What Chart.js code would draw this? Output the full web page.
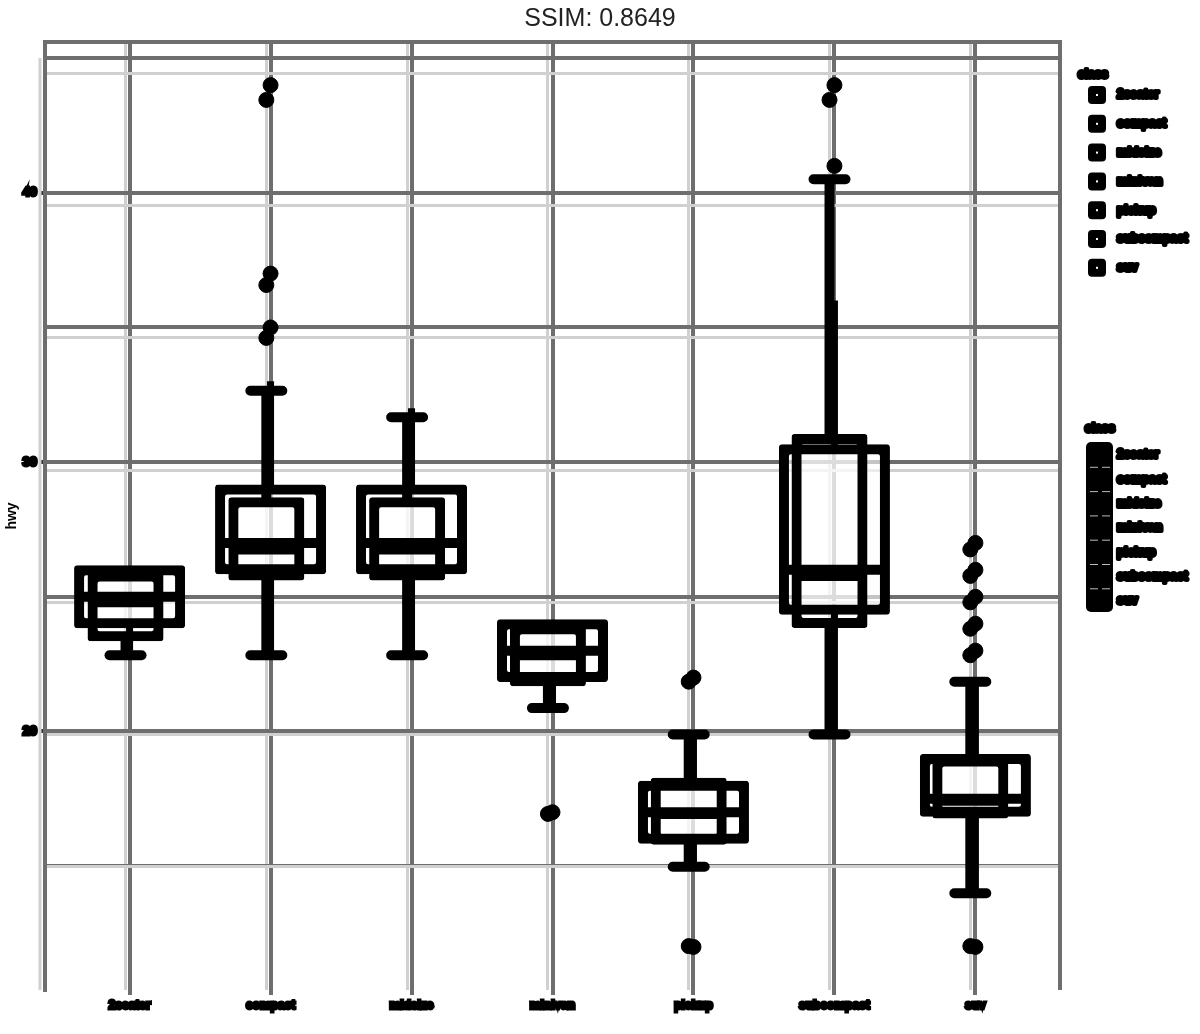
<!DOCTYPE html>
<html>
<head>
<meta charset="utf-8">
<script src="https://cdn.jsdelivr.net/npm/chart.js@4.4.0/dist/chart.umd.min.js"></script>
<style>
  html, body { margin: 0; padding: 0; background: #fff; }
</style>
</head>
<body>
<canvas id="chart" width="1200" height="1034"></canvas>
<script>
const classes = ['2seater', 'compact', 'midsize', 'minivan', 'pickup', 'subcompact', 'suv'];

// first layer (wide boxes)
const lowA  = [23, 23, 23, 21, 15, 20, 14];
const q1A   = [24, 26, 26, 22, 16, 24.5, 17];
const medA  = [25, 27, 27, 23, 17, 26, 17.5];
const q3A   = [26, 29, 29, 24, 18, 30.5, 19];
const highA = [26, 33, 32, 24, 20, 36, 22];
const outA  = [[], [35, 37, 44], [], [17], [22, 12], [41, 44], [23, 24, 25, 26, 27, 12]];

// second layer (narrow boxes with capped whiskers)
const lowB  = [23, 23, 23, 21, 15, 20, 14];
const q1B   = [23.7, 26, 26, 22, 16, 24.2, 17];
const medB  = [25, 27, 27, 23, 17, 26, 17.5];
const q3B   = [26, 28.8, 28.8, 24, 18.2, 31.2, 19];
const highB = [26, 33, 32, 24, 20, 41, 22];
const outB  = [[], [35, 37, 44], [], [17], [22, 12], [44], [23, 24, 25, 26, 27, 12]];

const yTicks = [15, 20, 25, 30, 35, 40, 45];
const yLabels = [20, 30, 40];

const GRID = '#6e6e6e';
const GRID_B = '#d0d0d0';
const labelFont = { family: 'Liberation Sans', size: 12, weight: 'bold' };

function blobText(ctx, text, x, y, size) {
    ctx.font = 'bold ' + size + 'px "Liberation Sans"';
    ctx.textAlign = 'left';
    ctx.textBaseline = 'middle';
    ctx.lineJoin = 'round';
    ctx.lineWidth = 4;
    ctx.strokeStyle = '#000';
    ctx.fillStyle = '#000';
    ctx.strokeText(text, x, y);
    ctx.fillText(text, x, y);
}

function drawParts(ctx, xs, ys, low, q1, med, q3, high, halfBox, whiskerW, cap) {
    ctx.strokeStyle = '#000';
    classes.forEach((c, i) => {
        const x = xs.getPixelForValue(i);
        ctx.lineCap = 'butt';
        ctx.lineWidth = whiskerW;
        ctx.beginPath();
        if (high[i] > q3[i]) {
            ctx.moveTo(x, ys.getPixelForValue(q3[i]));
            ctx.lineTo(x, ys.getPixelForValue(high[i]));
        }
        if (low[i] < q1[i]) {
            ctx.moveTo(x, ys.getPixelForValue(q1[i]));
            ctx.lineTo(x, ys.getPixelForValue(low[i]));
        }
        ctx.stroke();
        if (cap) {
            ctx.lineCap = 'round';
            ctx.lineWidth = 10;
            ctx.beginPath();
            [[high[i], q3[i]], [low[i], q1[i]]].forEach(([v, q]) => {
                if (v === q) return;
                const y = ys.getPixelForValue(v);
                ctx.moveTo(x - cap, y);
                ctx.lineTo(x + cap, y);
            });
            ctx.stroke();
        }
        ctx.lineCap = 'butt';
        ctx.lineWidth = 10;
        const ym = ys.getPixelForValue(med[i]);
        ctx.beginPath();
        ctx.moveTo(x - halfBox, ym);
        ctx.lineTo(x + halfBox, ym);
        ctx.stroke();
    });
}

const boxParts = {
    id: 'boxParts',
    afterDatasetsDraw(chart) {
        const ctx = chart.ctx;
        const s = chart.scales;
        ctx.save();
        drawParts(ctx, s.x2, s.y2, lowB, q1B, medB, q3B, highB, 33, 10, 16);
        drawParts(ctx, s.x, s.y, lowA, q1A, medA, q3A, highA, 51, 7, 0);
        ctx.restore();
    }
};

const frame = {
    id: 'frame',
    beforeDatasetsDraw(chart) {
        const { ctx, chartArea: a } = chart;
        ctx.save();
        ctx.lineWidth = 3;
        ctx.strokeStyle = GRID_B;
        ctx.beginPath();
        ctx.moveTo(a.left - 5, a.top + 16);
        ctx.lineTo(a.left - 5, a.bottom);
        ctx.stroke();
        ctx.lineWidth = 4;
        ctx.strokeStyle = GRID;
        ctx.beginPath();
        ctx.moveTo(a.left - 2, a.top);
        ctx.lineTo(a.right, a.top);
        ctx.lineTo(a.right, a.bottom);
        ctx.stroke();
        ctx.restore();
    }
};

const legends = {
    id: 'legends',
    afterDraw(chart) {
        const ctx = chart.ctx;
        const x0 = chart.chartArea.right;
        ctx.save();
        // legend 1: outline keys
        blobText(ctx, 'class', x0 + 18, 75, 12);
        classes.forEach((c, i) => {
            const y = 95 + i * 28.8;
            ctx.fillStyle = '#000';
            ctx.beginPath();
            ctx.roundRect(x0 + 28, y - 9, 18, 18, 4);
            ctx.fill();
            ctx.fillStyle = '#fff';
            ctx.fillRect(x0 + 36, y - 1, 2, 2);
            blobText(ctx, c, x0 + 57, y, 12);
        });
        // legend 2: filled keys
        blobText(ctx, 'class', x0 + 25, 429, 12);
        ctx.fillStyle = '#000';
        ctx.beginPath();
        ctx.roundRect(x0 + 26, 442, 27, 170, 5);
        ctx.fill();
        classes.forEach((c, i) => {
            const y = 455 + i * 24.3;
            if (i > 0) {
                ctx.strokeStyle = '#bbb';
                ctx.lineWidth = 1;
                ctx.beginPath();
                ctx.moveTo(x0 + 30, y - 12); ctx.lineTo(x0 + 38, y - 12);
                ctx.moveTo(x0 + 42, y - 12); ctx.lineTo(x0 + 50, y - 12);
                ctx.stroke();
            }
            blobText(ctx, c, x0 + 57, y, 12);
        });
        ctx.restore();
    }
};

const boxData = (q1, q3) => classes.map((c, i) => ({ x: i, y: [q1[i], q3[i]] }));
const pointData = out => out.flatMap((vals, i) => vals.map(v => ({ x: i, y: v })));

const outline = { borderWidth: 1, inflateAmount: 4.5, borderRadius: 3, borderSkipped: false,
                  borderColor: '#000', backgroundColor: 'rgba(0,0,0,0)', grouped: false };
const fill = { borderWidth: 0, inflateAmount: 0, grouped: false };

new Chart(document.getElementById('chart'), {
    type: 'bar',
    data: {
        datasets: [
            Object.assign({ type: 'bar', label: 'box', data: boxData(q1A, q3A),
                xAxisID: 'x', yAxisID: 'y', barThickness: 102 }, outline),
            Object.assign({ type: 'bar', label: 'box2', data: boxData(q1B, q3B),
                xAxisID: 'x2', yAxisID: 'y2', barThickness: 67 }, outline),
            Object.assign({ type: 'bar', label: 'fill', data: boxData(q1A, q3A),
                xAxisID: 'x', yAxisID: 'y', barThickness: 102,
                backgroundColor: 'rgba(255,255,255,0.6)' }, fill),
            Object.assign({ type: 'bar', label: 'fill2', data: boxData(q1B, q3B),
                xAxisID: 'x2', yAxisID: 'y2', barThickness: 67,
                backgroundColor: 'rgba(255,255,255,0.4)' }, fill),
            {
                type: 'scatter', label: 'outliers', data: pointData(outA),
                xAxisID: 'x', yAxisID: 'y',
                pointRadius: 7.5, backgroundColor: '#000', borderColor: '#000', borderWidth: 1
            },
            {
                type: 'scatter', label: 'outliers2', data: pointData(outB),
                xAxisID: 'x2', yAxisID: 'y2',
                pointRadius: 7.5, backgroundColor: '#000', borderColor: '#000', borderWidth: 1
            }
        ]
    },
    options: {
        responsive: false,
        animation: false,
        layout: { padding: 0 },
        plugins: {
            legend: { display: false },
            tooltip: { enabled: false },
            title: {
                display: true, text: 'SSIM: 0.8649', color: '#222',
                font: { family: 'Liberation Sans', size: 25, weight: 'normal' },
                padding: { top: 4, bottom: 8 }
            }
        },
        scales: {
            x: {
                type: 'linear', min: -0.6, max: 6.6, offset: false,
                afterBuildTicks: s => { s.ticks = classes.map((c, i) => ({ value: i })); },
                afterFit: s => { s.height = 44; },
                ticks: {
                    callback: v => classes[v], autoSkip: false, maxRotation: 0,
                    color: '#000', font: labelFont, textStrokeColor: '#000', textStrokeWidth: 3, padding: 3
                },
                grid: { color: GRID, lineWidth: 4, tickLength: 5, offset: false },
                border: { display: false }
            },
            x2: {
                type: 'linear', min: -0.572, max: 6.637, offset: false, position: 'bottom', z: -1,
                afterBuildTicks: s => { s.ticks = classes.map((c, i) => ({ value: i })); },
                afterFit: s => { s.height = 0; },
                ticks: { display: false },
                grid: { color: GRID_B, lineWidth: 3, drawTicks: false, offset: false },
                border: { display: false }
            },
            y: {
                type: 'linear', min: 10.4, max: 45.6,
                afterBuildTicks: s => { s.ticks = yTicks.map(v => ({ value: v })); },
                afterFit: s => { s.width = 45; },
                ticks: {
                    callback: v => yLabels.includes(v) ? String(v) : '',
                    color: '#000', font: { family: 'Liberation Sans', size: 13, weight: 'bold' },
                    textStrokeColor: '#000', textStrokeWidth: 3, padding: 3
                },
                grid: {
                    color: GRID, lineWidth: 4, tickLength: 5,
                    tickColor: c => yLabels.includes(c.tick && c.tick.value) ? '#333' : 'rgba(0,0,0,0)'
                },
                border: { display: true, color: GRID, width: 4 },
                title: {
                    display: true, text: 'hwy', color: '#000',
                    font: { family: 'Liberation Sans', size: 14, weight: 'bold' }, padding: { top: 4, bottom: 0 }
                }
            },
            y2: {
                type: 'linear', min: 10.34, max: 46.19, position: 'right', z: -1,
                afterBuildTicks: s => { s.ticks = yTicks.map(v => ({ value: v })); },
                afterFit: s => { s.width = 140; },
                ticks: { display: false },
                grid: { color: GRID_B, lineWidth: 3, drawTicks: false },
                border: { display: false }
            }
        }
    },
    plugins: [frame, boxParts, legends]
});
</script>
</body>
</html>
